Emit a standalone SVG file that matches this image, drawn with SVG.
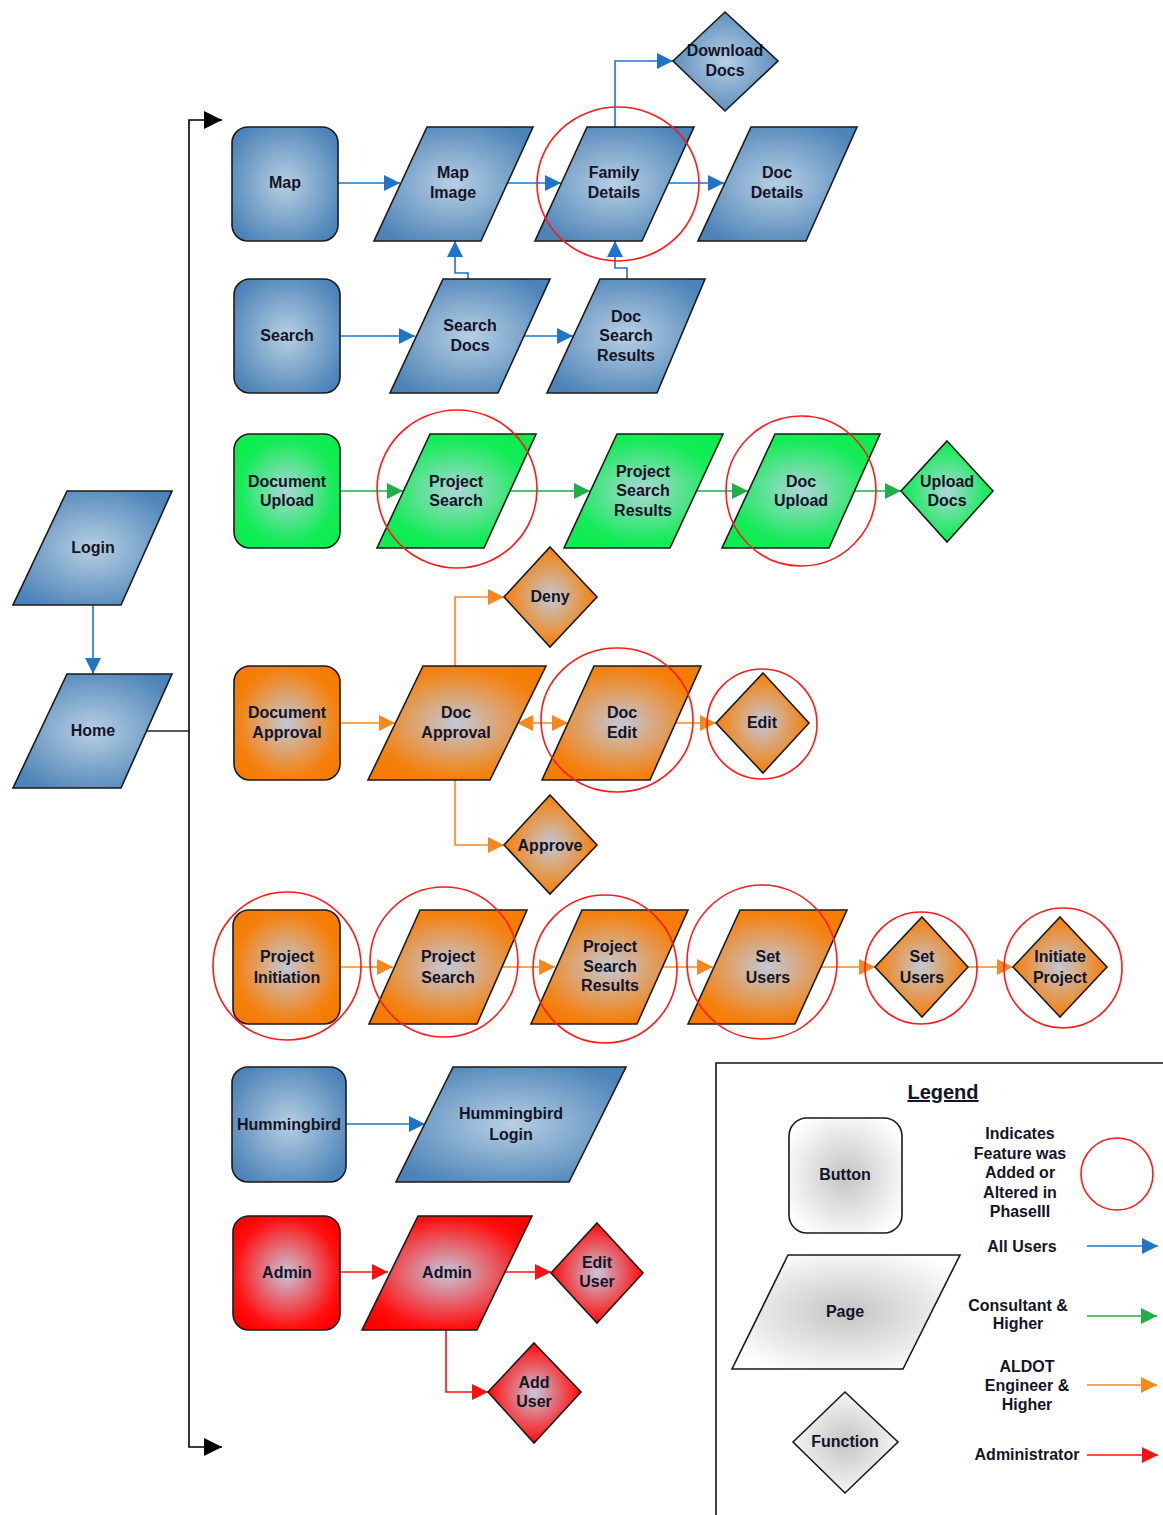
<svg xmlns="http://www.w3.org/2000/svg" width="1163" height="1515" viewBox="0 0 1163 1515">
<style>
.t{font-family:"Liberation Sans",Arial,sans-serif;font-weight:bold;font-size:16px;fill:#141428;text-anchor:middle}
.n{stroke:#1a1a1a;stroke-width:1.6}
.bl{fill:url(#gBlue)}.gr{fill:url(#gGreen)}.or{fill:url(#gOrange)}.rd{fill:url(#gRed)}.gy{fill:url(#gGray)}
.c{fill:none;stroke-width:1.6}
.cb{stroke:#1f74c6;marker-end:url(#aB)}
.cg{stroke:#1fae4a;marker-end:url(#aG)}
.co{stroke:#f7881e;marker-end:url(#aO)}
.cr{stroke:#ff1010;marker-end:url(#aR)}
.ring{fill:none;stroke:#ff1a1a;stroke-width:1.6}
</style>
<defs>
<radialGradient id="gBlue" cx="0.5" cy="0.5" r="0.6"><stop offset="0" stop-color="#b8cfe3"/><stop offset="1" stop-color="#4c83b8"/></radialGradient>
<radialGradient id="gGreen" cx="0.5" cy="0.5" r="0.6"><stop offset="0" stop-color="#aed6d8"/><stop offset="0.75" stop-color="#14ec58"/><stop offset="1" stop-color="#0ced4e"/></radialGradient>
<radialGradient id="gOrange" cx="0.5" cy="0.5" r="0.6"><stop offset="0" stop-color="#c2c8d6"/><stop offset="0.8" stop-color="#f5800c"/><stop offset="1" stop-color="#f57c04"/></radialGradient>
<radialGradient id="gRed" cx="0.5" cy="0.5" r="0.6"><stop offset="0" stop-color="#c8c6da"/><stop offset="0.8" stop-color="#ff1010"/><stop offset="1" stop-color="#ff0000"/></radialGradient>
<radialGradient id="gGray" cx="0.5" cy="0.5" r="0.6"><stop offset="0" stop-color="#c4c4c4"/><stop offset="1" stop-color="#ffffff"/></radialGradient>
<marker id="aB" viewBox="0 0 16 16" refX="16" refY="8" markerWidth="16" markerHeight="16" markerUnits="userSpaceOnUse" orient="auto-start-reverse"><path d="M0,0 L16,8 L0,16 z" fill="#1f74c6"/></marker>
<marker id="aG" viewBox="0 0 16 16" refX="16" refY="8" markerWidth="16" markerHeight="16" markerUnits="userSpaceOnUse" orient="auto-start-reverse"><path d="M0,0 L16,8 L0,16 z" fill="#1fae4a"/></marker>
<marker id="aO" viewBox="0 0 16 16" refX="16" refY="8" markerWidth="16" markerHeight="16" markerUnits="userSpaceOnUse" orient="auto-start-reverse"><path d="M0,0 L16,8 L0,16 z" fill="#f7881e"/></marker>
<marker id="aR" viewBox="0 0 16 16" refX="16" refY="8" markerWidth="16" markerHeight="16" markerUnits="userSpaceOnUse" orient="auto-start-reverse"><path d="M0,0 L16,8 L0,16 z" fill="#ff1010"/></marker>
<marker id="aK" viewBox="0 0 18 18" refX="18" refY="9" markerWidth="18" markerHeight="18" markerUnits="userSpaceOnUse" orient="auto-start-reverse"><path d="M0,0 L18,9 L0,18 z" fill="#000"/></marker>
</defs>
<rect width="1163" height="1515" fill="#fff"/>

<g id="connectors">
<path class="c" stroke="#000" d="M222,120 H189 V1447 H222" marker-start="url(#aK)" marker-end="url(#aK)"/>
<path class="c" stroke="#222" d="M147,731 H189"/>
<path class="c cb" d="M93,605 V674"/>
<path class="c cb" d="M338,183 H400"/>
<path class="c cb" d="M507,183 H561"/>
<path class="c cb" d="M668,183 H724"/>
<path class="c cb" d="M615,127 V61 H673"/>
<path class="c cb" d="M340,336 H415"/>
<path class="c cb" d="M524,336 H573"/>
<path class="c cb" d="M468,279 V273 H455 V241"/>
<path class="c cb" d="M627,279 V268 H615 V241"/>
<path class="c cb" d="M346,1124 H425"/>
<path class="c cg" d="M340,491 H403"/>
<path class="c cg" d="M510,491 H590"/>
<path class="c cg" d="M697,491 H748"/>
<path class="c cg" d="M855,491 H901"/>
<path class="c co" d="M340,723 H395"/>
<path class="c co" d="M455,666 V597 H504"/>
<path class="c co" d="M455,780 V845 H504"/>
<path class="c co" d="M517,723 H568" marker-start="url(#aO)"/>
<path class="c co" d="M673,723 H716"/>
<path class="c co" d="M340,967 H393"/>
<path class="c co" d="M500,967 H555"/>
<path class="c co" d="M662,967 H713"/>
<path class="c co" d="M820,967 H875"/>
<path class="c co" d="M968,967 H1013"/>
<path class="c cr" d="M340,1272 H388"/>
<path class="c cr" d="M504,1272 H551"/>
<path class="c cr" d="M446,1330 V1392 H488"/>
</g>

<g id="login"><path class="n bl" d="M67,491 H172 L121,605 H13 Z"/><text class="t" x="93" y="553">Login</text></g>
<g id="home"><path class="n bl" d="M67,674 H172 L121,788 H13 Z"/><text class="t" x="93" y="736">Home</text></g>

<g id="map"><rect class="n bl" x="232" y="127" width="106" height="114" rx="16"/><text class="t" x="285" y="188">Map</text></g>
<g id="map-image"><path class="n bl" d="M427,127 H533 L481,241 H374 Z"/><text class="t" x="453" y="178">Map</text><text class="t" x="453" y="198">Image</text></g>
<g id="family-details"><path class="n bl" d="M587,127 H694 L642,241 H535 Z"/><text class="t" x="614" y="178">Family</text><text class="t" x="614" y="198">Details</text></g>
<g id="doc-details"><path class="n bl" d="M751,127 H857 L806,241 H698 Z"/><text class="t" x="777" y="178">Doc</text><text class="t" x="777" y="198">Details</text></g>
<g id="download-docs"><path class="n bl" d="M725,12 L778,61 L725,111 L673,61 Z"/><text class="t" x="725" y="56">Download</text><text class="t" x="725" y="76">Docs</text></g>

<g id="search"><rect class="n bl" x="234" y="279" width="106" height="114" rx="16"/><text class="t" x="287" y="341">Search</text></g>
<g id="search-docs"><path class="n bl" d="M443,279 H550 L498,393 H390 Z"/><text class="t" x="470" y="331">Search</text><text class="t" x="470" y="351">Docs</text></g>
<g id="doc-search-results"><path class="n bl" d="M600,279 H705 L657,393 H547 Z"/><text class="t" x="626" y="322">Doc</text><text class="t" x="626" y="341">Search</text><text class="t" x="626" y="361">Results</text></g>

<g id="document-upload"><rect class="n gr" x="234" y="434" width="106" height="114" rx="16"/><text class="t" x="287" y="487">Document</text><text class="t" x="287" y="506">Upload</text></g>
<g id="project-search-g"><path class="n gr" d="M430,434 H536 L484,548 H377 Z"/><text class="t" x="456" y="487">Project</text><text class="t" x="456" y="506">Search</text></g>
<g id="project-search-results-g"><path class="n gr" d="M617,434 H723 L670,548 H564 Z"/><text class="t" x="643" y="477">Project</text><text class="t" x="643" y="496">Search</text><text class="t" x="643" y="516">Results</text></g>
<g id="doc-upload"><path class="n gr" d="M775,434 H880 L829,548 H722 Z"/><text class="t" x="801" y="487">Doc</text><text class="t" x="801" y="506">Upload</text></g>
<g id="upload-docs"><path class="n gr" d="M947,441 L993,491 L947,542 L901,491 Z"/><text class="t" x="947" y="487">Upload</text><text class="t" x="947" y="506">Docs</text></g>

<g id="document-approval"><rect class="n or" x="234" y="666" width="106" height="114" rx="16"/><text class="t" x="287" y="718">Document</text><text class="t" x="287" y="738">Approval</text></g>
<g id="doc-approval"><path class="n or" d="M423,666 H546 L490,780 H368 Z"/><text class="t" x="456" y="718">Doc</text><text class="t" x="456" y="738">Approval</text></g>
<g id="doc-edit"><path class="n or" d="M594,666 H701 L650,780 H542 Z"/><text class="t" x="622" y="718">Doc</text><text class="t" x="622" y="738">Edit</text></g>
<g id="edit"><path class="n or" d="M763,673 L809,723 L763,773 L716,723 Z"/><text class="t" x="762" y="728">Edit</text></g>
<g id="deny"><path class="n or" d="M550,547 L597,597 L550,647 L504,597 Z"/><text class="t" x="550" y="602">Deny</text></g>
<g id="approve"><path class="n or" d="M550,795 L597,845 L550,894 L504,845 Z"/><text class="t" x="550" y="851">Approve</text></g>

<g id="project-initiation"><rect class="n or" x="233" y="910" width="107" height="114" rx="16"/><text class="t" x="287" y="962">Project</text><text class="t" x="287" y="983">Initiation</text></g>
<g id="project-search-o"><path class="n or" d="M420,910 H527 L477,1024 H369 Z"/><text class="t" x="448" y="962">Project</text><text class="t" x="448" y="983">Search</text></g>
<g id="project-search-results-o"><path class="n or" d="M582,910 H688 L637,1024 H531 Z"/><text class="t" x="610" y="952">Project</text><text class="t" x="610" y="972">Search</text><text class="t" x="610" y="991">Results</text></g>
<g id="set-users-page"><path class="n or" d="M740,910 H847 L795,1024 H688 Z"/><text class="t" x="768" y="962">Set</text><text class="t" x="768" y="983">Users</text></g>
<g id="set-users-fn"><path class="n or" d="M922,917 L968,967 L922,1017 L875,967 Z"/><text class="t" x="922" y="962">Set</text><text class="t" x="922" y="983">Users</text></g>
<g id="initiate-project"><path class="n or" d="M1060,917 L1107,967 L1060,1017 L1013,967 Z"/><text class="t" x="1060" y="962">Initiate</text><text class="t" x="1060" y="983">Project</text></g>

<g id="hummingbird"><rect class="n bl" x="232" y="1067" width="114" height="115" rx="16"/><text class="t" x="289" y="1130">Hummingbird</text></g>
<g id="hummingbird-login"><path class="n bl" d="M453,1067 H626 L569,1182 H396 Z"/><text class="t" x="511" y="1119">Hummingbird</text><text class="t" x="511" y="1140">Login</text></g>

<g id="admin-button"><rect class="n rd" x="233" y="1216" width="107" height="114" rx="16"/><text class="t" x="287" y="1278">Admin</text></g>
<g id="admin-page"><path class="n rd" d="M418,1216 H532 L477,1330 H362 Z"/><text class="t" x="447" y="1278">Admin</text></g>
<g id="edit-user"><path class="n rd" d="M597,1223 L643,1273 L597,1323 L551,1273 Z"/><text class="t" x="597" y="1268">Edit</text><text class="t" x="597" y="1287">User</text></g>
<g id="add-user"><path class="n rd" d="M534,1343 L581,1392 L534,1443 L488,1392 Z"/><text class="t" x="534" y="1388">Add</text><text class="t" x="534" y="1407">User</text></g>

<g id="phase-circles">
<ellipse class="ring" cx="618" cy="184" rx="81" ry="77"/>
<ellipse class="ring" cx="457" cy="489" rx="80" ry="79"/>
<ellipse class="ring" cx="801" cy="491" rx="75" ry="75"/>
<ellipse class="ring" cx="617" cy="720" rx="76" ry="72"/>
<ellipse class="ring" cx="762" cy="724" rx="55" ry="55"/>
<ellipse class="ring" cx="287" cy="966" rx="74" ry="74"/>
<ellipse class="ring" cx="444" cy="962" rx="74" ry="75"/>
<ellipse class="ring" cx="605" cy="969" rx="72" ry="74"/>
<ellipse class="ring" cx="762" cy="962" rx="75" ry="77"/>
<ellipse class="ring" cx="921" cy="968" rx="56" ry="56"/>
<ellipse class="ring" cx="1063" cy="968" rx="59" ry="60"/>
</g>

<g id="legend">
<path d="M1163,1063 H716 V1515" fill="none" stroke="#111" stroke-width="1.6"/>
<text class="t" x="943" y="1099" style="font-size:20px;text-decoration:underline">Legend</text>
<rect class="n gy" x="789" y="1118" width="113" height="115" rx="18"/><text class="t" x="845" y="1180">Button</text>
<path class="n gy" d="M788,1255 H960 L903,1369 H732 Z"/><text class="t" x="845" y="1317">Page</text>
<path class="n gy" d="M845,1392 L898,1442 L845,1493 L793,1442 Z"/><text class="t" x="845" y="1447">Function</text>
<text class="t" x="1020" y="1139">Indicates</text>
<text class="t" x="1020" y="1159">Feature was</text>
<text class="t" x="1020" y="1178">Added or</text>
<text class="t" x="1020" y="1198">Altered in</text>
<text class="t" x="1020" y="1217">PhaseIII</text>
<circle class="ring" cx="1117" cy="1174" r="36"/>
<text class="t" x="1022" y="1252">All Users</text>
<path class="c cb" d="M1087,1246 H1158"/>
<text class="t" x="1018" y="1311">Consultant &amp;</text>
<text class="t" x="1018" y="1329">Higher</text>
<path class="c cg" d="M1087,1316 H1157"/>
<text class="t" x="1027" y="1372">ALDOT</text>
<text class="t" x="1027" y="1391">Engineer &amp;</text>
<text class="t" x="1027" y="1410">Higher</text>
<path class="c co" d="M1087,1385 H1157"/>
<text class="t" x="1027" y="1460">Administrator</text>
<path class="c cr" d="M1087,1455 H1158"/>
</g>
</svg>
